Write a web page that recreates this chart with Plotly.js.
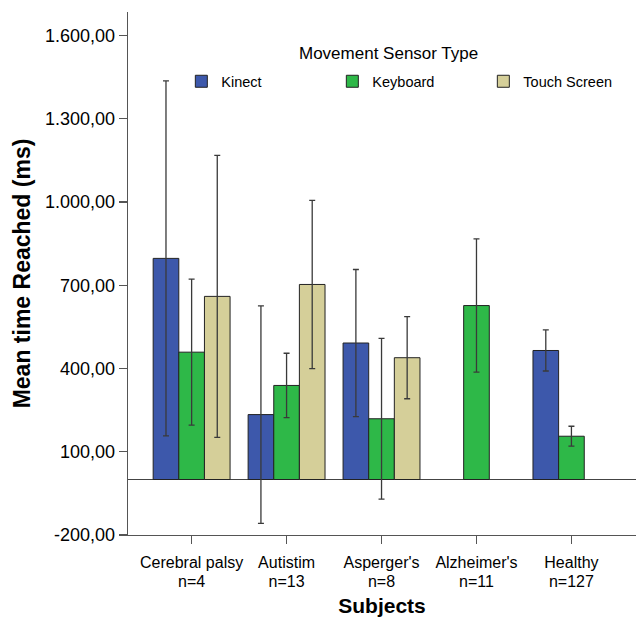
<!DOCTYPE html>
<html>
<head>
<meta charset="utf-8">
<script src="https://cdn.plot.ly/plotly-3.0.1.min.js"></script>
<style>html,body{margin:0;padding:0;background:#fff;}#chart{width:638px;height:620px;}</style>
</head>
<body>
<div id="chart"></div>
<script>
const categories = ["Cerebral palsy", "Autistim", "Asperger's", "Alzheimer's", "Healthy"];
const groupSizes = ["n=4", "n=13", "n=8", "n=11", "n=127"];
const kinectMean = [797, 234, 492, null, 465];
const kinectErr = [640, 392, 265, null, 74];
const keyboardMean = [459, 339, 219, 627, 156];
const keyboardErr = [263, 116, 290, 240, 36];
const touchMean = [660, 703, 439, null, null];
const touchErr = [508, 303, 148, null, null];
const yTickVals = [-200, 100, 400, 700, 1000, 1300, 1600];
const yTickText = ["-200,00", "100,00", "400,00", "700,00", "1.000,00", "1.300,00", "1.600,00"];

const xIdx = categories.map((c, i) => i);
const xRange = [-0.67, 4.68];
const errStyle = {type: 'data', visible: true, color: '#3a3a3a', thickness: 1.3, width: 3};
function mk(name, y, e, color) {
  return {
    type: 'bar', name: name, x: xIdx, y: y,
    marker: {color: color, line: {color: '#222222', width: 1}},
    error_y: Object.assign({array: e}, errStyle),
    hoverinfo: 'skip'
  };
}
const data = [
  mk('Kinect', kinectMean, kinectErr, '#3D58AB'),
  mk('Keyboard', keyboardMean, keyboardErr, '#2EB848'),
  mk('Touch Screen', touchMean, touchErr, '#D5CF99'),
  // carrier for the second row of category labels (group sizes); draws nothing
  {type: 'scatter', mode: 'none', x: xIdx, y: keyboardMean, xaxis: 'x2', showlegend: false, hoverinfo: 'skip'}
];
const layout = {
  width: 638, height: 620,
  margin: {l: 128, r: 2, t: 12, b: 85},
  paper_bgcolor: '#ffffff', plot_bgcolor: '#ffffff',
  font: {family: 'Liberation Sans, Arial, sans-serif', color: '#000000'},
  barmode: 'group', bargap: 0.19, bargroupgap: 0,
  showlegend: true,
  legend: {
    orientation: 'h', x: 0.105, xanchor: 'left', y: 0.898, yanchor: 'top',
    font: {size: 14.5}, entrywidth: 106, entrywidthmode: 'pixels',
    bgcolor: 'rgba(0,0,0,0)', traceorder: 'normal'
  },
  annotations: [{
    text: 'Movement Sensor Type', xref: 'paper', yref: 'paper',
    x: 0.512, y: 0.9216, xanchor: 'center', yanchor: 'middle',
    showarrow: false, font: {size: 17}
  }],
  xaxis: {
    range: xRange, tickvals: xIdx, ticktext: categories,
    showline: true, linecolor: '#555555', linewidth: 1.3,
    ticks: 'outside', ticklen: 8, tickcolor: '#555555', tickwidth: 1.3,
    showgrid: false, zeroline: false, tickfont: {size: 16}, ticklabelstandoff: 4,
    title: {text: 'Subjects', font: {size: 21, weight: 'bold'}, standoff: 28}
  },
  xaxis2: {
    range: xRange, overlaying: 'x', anchor: 'y', side: 'bottom',
    tickvals: xIdx, ticktext: groupSizes,
    showline: false, ticks: 'outside', ticklen: 8, tickcolor: 'rgba(0,0,0,0)',
    showgrid: false, zeroline: false, tickfont: {size: 16}, ticklabelstandoff: 24
  },
  yaxis: {
    range: [-200, 1685], tickvals: yTickVals, ticktext: yTickText,
    showline: true, linecolor: '#555555', linewidth: 1.3,
    ticks: 'outside', ticklen: 8, tickcolor: '#555555', tickwidth: 1.3,
    showgrid: false, zeroline: true, zerolinecolor: '#444444', zerolinewidth: 1.3,
    tickfont: {size: 18},
    title: {text: 'Mean time Reached (ms)\u00a0\u00a0\u00a0', font: {size: 23, weight: 'bold'}, standoff: 8}
  }
};
Plotly.newPlot('chart', data, layout, {displayModeBar: false, staticPlot: true});
</script>
</body>
</html>
